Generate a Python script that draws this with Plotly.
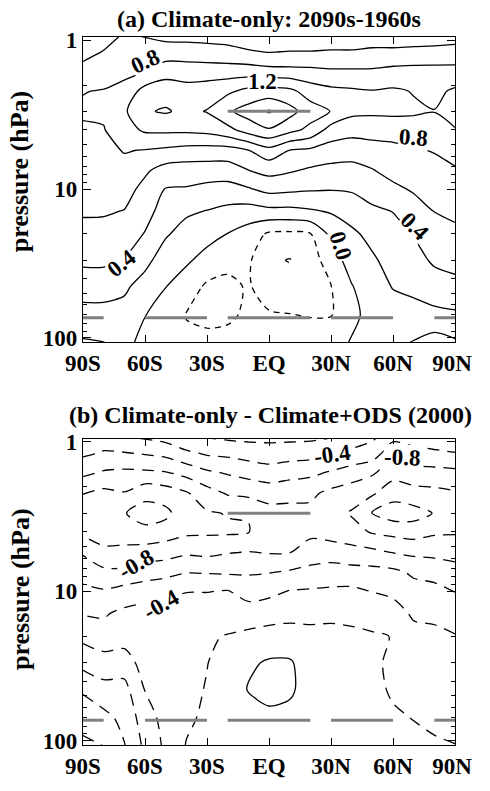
import numpy as np
import plotly.graph_objects as go

# ---------------- data ----------------
lat = [-90, -80, -70, -60, -50, -40, -30, -20, -10, 0, 10, 20, 30, 40, 50, 60, 70, 80, 90]
pressure = [0.9, 1.2, 1.6, 2.2, 3, 4, 5.5, 7.5, 10, 14, 20, 30, 45, 70, 110]
lat_ticks = [-90, -60, -30, 0, 30, 60, 90]
lat_labels = ["90S", "60S", "30S", "EQ", "30N", "60N", "90N&nbsp;"]
p_ticks = [1, 10, 100]
p_minor = [2, 3, 4, 5, 6, 7, 8, 9, 20, 30, 40, 50, 60, 70, 80, 90]

# (a) Climate-only 2090s-1960s, one profile per latitude (top -> bottom)
change_a = [
    [0.42, 0.54, 0.66, 0.795, 0.82, 0.78, 0.74, 0.70, 0.66, 0.62, 0.55, 0.44, 0.29, 0.13, -0.03],
    [0.51, 0.61, 0.71, 0.81, 0.83, 0.79, 0.75, 0.71, 0.67, 0.62, 0.54, 0.44, 0.29, 0.13, -0.01],
    [0.61, 0.66, 0.75, 0.86, 0.97, 0.92, 0.81, 0.74, 0.67, 0.595, 0.50, 0.39, 0.23, 0.14, 0.05],
    [0.58, 0.675, 0.79, 1.08, 1.18, 1.03, 0.79, 0.63, 0.545, 0.47, 0.39, 0.25, 0.13, 0.005, -0.06],
    [0.53, 0.69, 0.91, 1.12, 1.22, 1.04, 0.76, 0.52, 0.39, 0.32, 0.22, 0.11, 0.005, -0.08, -0.12],
    [0.53, 0.68, 0.91, 1.07, 1.15, 1.04, 0.73, 0.50, 0.385, 0.23, 0.13, 0.03, -0.10, -0.21, -0.15],
    [0.52, 0.67, 0.90, 1.10, 1.21, 1.06, 0.72, 0.50, 0.345, 0.195, 0.07, -0.07, -0.23, -0.25, -0.14],
    [0.50, 0.66, 0.89, 1.165, 1.37, 1.14, 0.72, 0.50, 0.33, 0.15, -0.005, -0.14, -0.25, -0.24, -0.12],
    [0.47, 0.62, 0.89, 1.26, 1.48, 1.29, 0.79, 0.595, 0.38, 0.12, -0.09, -0.17, -0.18, -0.16, -0.11],
    [0.38, 0.595, 0.86, 1.28, 1.62, 1.38, 0.93, 0.66, 0.46, 0.15, -0.23, -0.36, -0.30, -0.18, -0.12],
    [0.42, 0.61, 0.85, 1.25, 1.47, 1.26, 0.79, 0.62, 0.44, 0.15, -0.24, -0.41, -0.30, -0.195, -0.12],
    [0.42, 0.61, 0.84, 1.11, 1.29, 1.15, 0.76, 0.57, 0.42, 0.18, -0.21, -0.30, -0.28, -0.21, -0.10],
    [0.45, 0.62, 0.82, 1.05, 1.195, 0.92, 0.71, 0.54, 0.41, 0.22, 0.05, -0.09, -0.205, -0.21, -0.08],
    [0.45, 0.62, 0.82, 1.03, 1.05, 0.874, 0.68, 0.54, 0.42, 0.29, 0.16, 0.08, -0.01, -0.05, 0.02],
    [0.47, 0.64, 0.82, 1.01, 1.03, 0.90, 0.70, 0.59, 0.475, 0.37, 0.26, 0.17, 0.11, 0.07, 0.04],
    [0.47, 0.64, 0.85, 1.03, 1.04, 0.89, 0.74, 0.66, 0.56, 0.405, 0.34, 0.28, 0.21, 0.12, 0.04],
    [0.48, 0.65, 0.86, 0.99, 1.03, 0.90, 0.78, 0.70, 0.62, 0.52, 0.41, 0.33, 0.24, 0.14, -0.02],
    [0.48, 0.66, 0.86, 0.955, 1.005, 0.92, 0.81, 0.74, 0.67, 0.605, 0.52, 0.43, 0.31, 0.15, -0.10],
    [0.50, 0.67, 0.86, 1.03, 1.07, 0.99, 0.87, 0.78, 0.71, 0.64, 0.56, 0.47, 0.34, 0.17, -0.04],
]

# (b) Climate-only - Climate+ODS (2000), one profile per latitude (top -> bottom)
change_b = [
    [-0.45, -0.57, -0.75, -0.995, -1.08, -1.04, -0.82, -0.68, -0.55, -0.405, -0.35, -0.53, -0.77, -0.92, -1.05],
    [-0.50, -0.62, -0.82, -1.05, -1.15, -1.10, -0.95, -0.75, -0.58, -0.42, -0.33, -0.45, -0.68, -0.85, -1.01],
    [-0.38, -0.62, -0.84, -1.01, -1.19, -1.12, -0.93, -0.76, -0.52, -0.36, -0.31, -0.50, -0.66, -0.75, -0.81],
    [-0.35, -0.59, -0.83, -1.14, -1.28, -1.15, -0.90, -0.70, -0.48, -0.33, -0.28, -0.31, -0.39, -0.49, -0.56],
    [-0.30, -0.55, -0.81, -1.10, -1.25, -1.10, -0.88, -0.66, -0.45, -0.33, -0.27, -0.28, -0.30, -0.33, -0.36],
    [-0.19, -0.45, -0.73, -1.02, -1.08, -1.04, -0.83, -0.605, -0.405, -0.32, -0.26, -0.26, -0.25, -0.23, -0.19],
    [-0.17, -0.38, -0.63, -0.88, -1.02, -1.03, -0.85, -0.61, -0.405, -0.31, -0.22, -0.205, -0.19, -0.17, -0.15],
    [-0.14, -0.36, -0.58, -0.78, -0.99, -1.03, -0.81, -0.62, -0.39, -0.30, -0.19, -0.13, -0.12, -0.13, -0.14],
    [-0.13, -0.32, -0.53, -0.75, -0.99, -1.01, -0.79, -0.62, -0.47, -0.32, -0.15, -0.03, 0.01, -0.07, -0.11],
    [-0.13, -0.30, -0.48, -0.72, -0.87, -0.88, -0.81, -0.605, -0.45, -0.29, -0.12, 0.02, 0.06, -0.04, -0.10],
    [-0.13, -0.32, -0.52, -0.74, -0.86, -0.87, -0.805, -0.57, -0.39, -0.26, -0.12, 0.02, 0.03, -0.05, -0.10],
    [-0.14, -0.33, -0.55, -0.76, -0.85, -0.84, -0.72, -0.53, -0.38, -0.25, -0.15, -0.09, -0.08, -0.09, -0.10],
    [-0.17, -0.39, -0.62, -0.85, -0.94, -0.88, -0.70, -0.50, -0.37, -0.24, -0.15, -0.10, -0.09, -0.10, -0.12],
    [-0.30, -0.44, -0.70, -0.90, -1.02, -0.92, -0.73, -0.52, -0.36, -0.24, -0.17, -0.13, -0.12, -0.12, -0.12],
    [-0.35, -0.50, -0.77, -0.97, -1.21, -1.02, -0.75, -0.53, -0.405, -0.28, -0.18, -0.19, -0.16, -0.14, -0.12],
    [-0.52, -0.74, -0.92, -1.12, -1.30, -1.06, -0.805, -0.55, -0.44, -0.32, -0.205, -0.21, -0.22, -0.18, -0.15],
    [-0.50, -0.67, -0.88, -1.07, -1.28, -1.09, -0.84, -0.63, -0.53, -0.43, -0.34, -0.30, -0.26, -0.205, -0.16],
    [-0.50, -0.63, -0.87, -1.05, -1.19, -1.03, -0.85, -0.67, -0.54, -0.44, -0.36, -0.32, -0.27, -0.23, -0.18],
    [-0.48, -0.61, -0.85, -1.02, -1.10, -1.02, -0.87, -0.72, -0.605, -0.49, -0.39, -0.33, -0.28, -0.24, -0.195],
]

# gray reference lines (latitude extents and pressure level, hPa)
gray_low_p = 73
gray_low_segments = [(-90, -80), (-60, -30), (-20, 20), (30, 60), (80, 90)]
gray_high_p = 3
gray_high_segments = [(-20, 20)]

# contour labels: (text, lat, pressure, angle)
labels_a = [("0.8", -60, 1.39, -25), ("1.2", -3, 1.88, 0), ("0.8", 70, 4.5, 4),
            ("0.4", -71.5, 31.5, -38), ("0.0", 34.5, 24, 72), ("0.4", 70.5, 17.8, 45)]
labels_b = [("-0.4", 30.5, 1.21, -8), ("-0.8", 64.5, 1.27, 2),
            ("-0.8", -64.5, 6.6, -30), ("-0.4", -52, 12.3, -30)]

# ---------------- figure ----------------
FONT = "Liberation Serif, Times New Roman, Times, serif"
fig = go.Figure()

za = np.array(change_a).T
zb = np.array(change_b).T


def add_panel(z, xa, ya, dash):
    common = dict(x=lat, y=pressure, z=z, xaxis=xa, yaxis=ya, showscale=False,
                  hoverinfo="skip", autocontour=False)
    fig.add_trace(go.Contour(**common,
                             contours=dict(start=0, end=3, size=0.2, coloring="none"),
                             line=dict(color="black", width=1.3, smoothing=0.8)))
    fig.add_trace(go.Contour(**common,
                             contours=dict(start=-3, end=-0.19, size=0.2, coloring="none"),
                             line=dict(color="black", width=1.3, dash=dash, smoothing=0.8)))


def add_gray(xa, ya):
    for p, segs in ((gray_low_p, gray_low_segments), (gray_high_p, gray_high_segments)):
        xs, ys = [], []
        for a, b in segs:
            xs += [a, b, None]
            ys += [p, p, None]
        fig.add_trace(go.Scatter(x=xs, y=ys, xaxis=xa, yaxis=ya, mode="lines",
                                 line=dict(color="#808080", width=3),
                                 hoverinfo="skip", showlegend=False))


add_panel(za, "x", "y", "6px,5px")
add_gray("x", "y")
add_panel(zb, "x2", "y2", "12px,8px")
add_gray("x2", "y2")

# invisible anchors so the right-hand tick axes get drawn
for xa, ya in (("x", "y3"), ("x2", "y4")):
    fig.add_trace(go.Scatter(x=[lat[9]], y=[p_ticks[1]], xaxis=xa, yaxis=ya, mode="markers",
                             marker=dict(opacity=0), hoverinfo="skip", showlegend=False))

tickfont = dict(family=FONT, size=23, color="black", weight=700)
xcommon = dict(range=[-90, 90], tickmode="array", tickvals=lat_ticks, ticktext=lat_labels,
               ticks="inside", ticklen=7, tickwidth=1.2, tickcolor="black",
               ticklabeloverflow="allow",
               showline=True, linecolor="black", linewidth=1.3, mirror="ticks",
               showgrid=False, zeroline=False, tickfont=tickfont)
ycommon = dict(type="log", range=[np.log10(107), np.log10(0.95)], tickmode="array",
               tickvals=p_ticks, ticktext=[str(v) for v in p_ticks],
               ticks="inside", ticklen=8, tickwidth=1.2, tickcolor="black",
               minor=dict(tickmode="array", tickvals=p_minor, ticks="inside", ticklen=4,
                          tickwidth=1, tickcolor="black"),
               showgrid=False, zeroline=False, tickfont=tickfont)

fig.update_layout(
    width=490, height=791, margin=dict(l=83, r=22, t=37, b=33),
    paper_bgcolor="white", plot_bgcolor="white", showlegend=False,
    font=dict(family=FONT),
    xaxis=dict(**xcommon, domain=[0, 1], anchor="y"),
    yaxis=dict(**ycommon, domain=[0.5687, 1], anchor="x",
               showline=True, linecolor="black", linewidth=1.3, mirror=True),
    yaxis3=dict(**ycommon, overlaying="y", side="right", anchor="x", showticklabels=False,
                showline=False),
    xaxis2=dict(**xcommon, domain=[0, 1], anchor="y2"),
    yaxis2=dict(**ycommon, domain=[0, 0.4327], anchor="x2",
                showline=True, linecolor="black", linewidth=1.3, mirror=True),
    yaxis4=dict(**ycommon, overlaying="y2", side="right", anchor="x2", showticklabels=False,
                showline=False),
)

ann = []
lblfont = dict(family=FONT, size=23, color="black", weight=700)
for (labels, xr, yr) in ((labels_a, "x", "y"), (labels_b, "x2", "y2")):
    for t, la, p, ang in labels:
        ann.append(dict(text=t, x=la, y=np.log10(p), xref=xr, yref=yr, showarrow=False,
                        textangle=ang, font=lblfont, bgcolor="white", borderpad=0))

titlefont = dict(family=FONT, size=24, color="black", weight=700)
ann.append(dict(text="(a) Climate-only: 2090s-1960s", x=0.5, y=1.026, xref="paper", yref="paper",
                showarrow=False, font=titlefont, xanchor="center", yanchor="middle"))
ann.append(dict(text="(b) Climate-only - Climate+ODS (2000)", x=0.505, y=0.466, xref="paper",
                yref="paper", showarrow=False, font=titlefont, xanchor="center", yanchor="middle"))
ytitlefont = dict(family=FONT, size=26, color="black", weight=700)
for yc in (0.81, 0.22):
    ann.append(dict(text="pressure (hPa)", x=-0.17, y=yc, xref="paper", yref="paper",
                    showarrow=False, textangle=-90, font=ytitlefont,
                    xanchor="center", yanchor="middle"))
fig.update_layout(annotations=ann)

fig.write_html("out.html", config={"displayModeBar": False},
               post_script="document.body.style.margin='0px';")
